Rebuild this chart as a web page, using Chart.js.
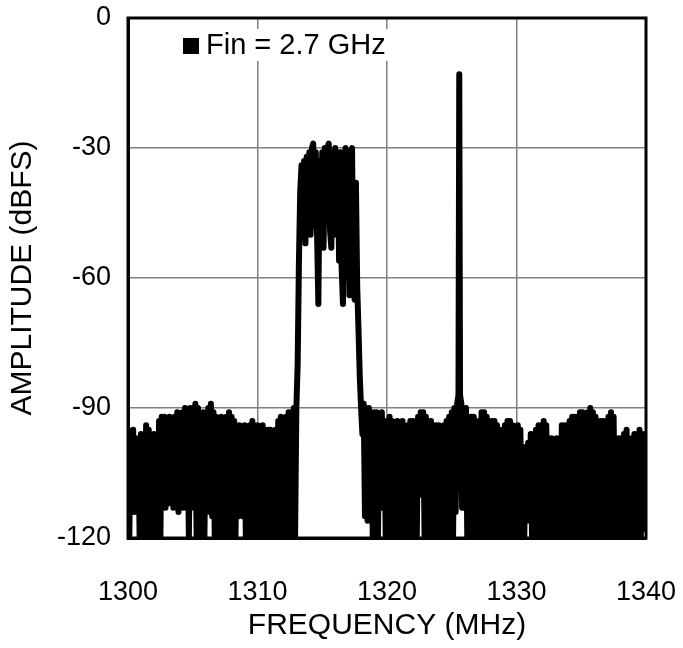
<!DOCTYPE html>
<html>
<head>
<meta charset="utf-8">
<script src="https://cdn.jsdelivr.net/npm/chart.js@4"></script>
<style>
  html, body { margin: 0; padding: 0; background: #fff; }
  #wrap { width: 683px; height: 648px; }
</style>
</head>
<body>
<div id="wrap"><canvas id="myChart" width="683" height="648"></canvas></div>
<script>
(function() {
    'use strict';

    const freqTicks = [1300, 1310, 1320, 1330, 1340];
    const ampTicks = [0, -30, -60, -90, -120];
    const seriesLabel = 'Fin = 2.7 GHz';

    // noise floor below the band, 1300.0 .. 1313.0 MHz, 0.1 MHz apart (one row per MHz)
    const noiseLowStart = 1300.0;
    const noiseLowStep = 0.1;
    const noiseLowAmp = [
      -95, -120, -96, -113, -95, -114, -97, -113, -97, -120,
      -96, -113, -98, -120, -94, -113, -95, -120, -97, -120,
      -96, -120, -97, -116, -93, -120, -92, -112, -92, -113,
      -93, -112, -92, -111, -93, -113, -92, -112, -91, -114,
      -92, -112, -91, -113, -90, -111, -91, -120, -90, -113,
      -90, -112, -89, -120, -90, -120, -92, -113, -91, -120,
      -92, -114, -90, -113, -89, -115, -91, -120, -92, -120,
      -93, -116, -92, -120, -93, -113, -92, -120, -91, -120,
      -92, -120, -93, -120, -95, -115, -94, -114, -95, -115,
      -94, -120, -95, -120, -94, -120, -93, -120, -94, -120,
      -94, -120, -95, -114, -94, -120, -95, -113, -95, -120,
      -95, -120, -96, -116, -95, -120, -93, -114, -92, -120,
      -93, -120, -92, -113, -91, -120, -91, -112, -90, -120,
      -90
    ];

    // modulated band, 1313.1 .. 1318.2 MHz, 0.1 MHz apart
    const bandStart = 1313.1;
    const bandStep = 0.1;
    const bandAmp = [
      -80, -56, -40, -34, -50, -33, -52, -32, -49,
      -31, -50, -30, -29, -48, -31, -50, -66, -33, -48,
      -31, -53, -30, -47, -30, -29, -49, -53, -31, -48,
      -30, -50, -31, -56, -31, -58, -66, -32, -30, -60,
      -32, -64, -31, -30, -60, -65, -38, -62, -72, -83,
      -90, -96, -89
    ];

    // noise between band and tone, 1318.3 .. 1325.3 MHz
    const noiseMidStart = 1318.3;
    const noiseMidStep = 0.1;
    const noiseMidAmp = [
      -115, -90, -116, -90, -114, -91, -120,
      -91, -120, -91, -120, -92, -113, -91, -113, -93, -120,
      -93, -120, -92, -116, -93, -120, -94, -120, -93, -114,
      -94, -120, -93, -120, -95, -115, -94, -120, -93, -120,
      -93, -120, -94, -120, -92, -110, -91, -109, -91, -120,
      -92, -120, -93, -114, -93, -120, -94, -120, -94, -116,
      -94, -120, -95, -120, -94, -113, -93, -120, -92, -120,
      -91, -120, -90, -114
    ];

    // the single tone
    const toneFreq = [1325.42, 1325.52, 1325.58, 1325.64, 1325.74];
    const toneAmp = [-89, -87, -13, -87, -89];

    // noise above the tone, 1325.8 .. 1340.0 MHz
    const noiseHighStart = 1325.8;
    const noiseHighStep = 0.1;
    const noiseHighAmp = [
      -113, -90,
      -113, -90, -120, -92, -120, -92, -116, -92, -120, -93,
      -120, -93, -114, -91, -120, -91, -120, -92, -115, -93,
      -120, -93, -117, -93, -120, -94, -120, -95, -120, -95,
      -117, -94, -120, -93, -116, -93, -120, -94, -120, -95,
      -120, -94, -114, -95, -120, -99, -120, -99, -115, -98,
      -116, -96, -120, -96, -115, -95, -120, -94, -120, -94,
      -120, -93, -120, -94, -116, -97, -120, -97, -115, -98,
      -120, -97, -116, -97, -120, -94, -120, -94, -114, -94,
      -120, -93, -120, -92, -117, -92, -120, -92, -120, -91,
      -116, -91, -120, -92, -114, -91, -120, -90, -120, -91,
      -120, -92, -115, -93, -120, -93, -120, -93, -117, -93,
      -120, -92, -120, -91, -116, -92, -120, -97, -120, -97,
      -118, -97, -120, -96, -120, -95, -116, -97, -120, -97,
      -120, -96, -120, -96, -115, -95, -120, -96, -118, -96,
      -97
    ];

    function stepped(start, step, amps) {
      return amps.map(function (a, i) {
        return { x: Math.round((start + i * step) * 1000) / 1000, y: a };
      });
    }

    const points = []
      .concat(stepped(noiseLowStart, noiseLowStep, noiseLowAmp))
      .concat(stepped(bandStart, bandStep, bandAmp))
      .concat(stepped(noiseMidStart, noiseMidStep, noiseMidAmp))
      .concat(toneFreq.map(function (f, i) { return { x: f, y: toneAmp[i] }; }))
      .concat(stepped(noiseHighStart, noiseHighStep, noiseHighAmp));

    const FONT = 'Liberation Sans, Arial, Helvetica, sans-serif';

    // frame on top/right plus the boxed legend inside the plot
    const framePlugin = {
      id: 'frame',
      afterDatasetsDraw: function (chart) {
        const ctx = chart.ctx;
        const a = chart.chartArea;
        ctx.save();
        ctx.strokeStyle = '#000';
        ctx.lineWidth = 3;
        ctx.strokeRect(a.left, a.top, a.right - a.left, a.bottom - a.top);

        ctx.fillStyle = '#fff';
        ctx.fillRect(a.left + 50, a.top + 11, 218, 32);
        ctx.fillStyle = '#000';
        ctx.fillRect(a.left + 55, a.top + 20, 16, 16);
        ctx.font = '29px ' + FONT;
        ctx.textBaseline = 'middle';
        ctx.textAlign = 'left';
        ctx.fillText(chart.data.datasets[0].label, a.left + 78, a.top + 28);
        ctx.restore();
      }
    };

    const chart = document.getElementById('myChart');

    new Chart(chart, {
      type: 'line',
      data: {
        datasets: [
          {
            label: seriesLabel,
            data: points,
            borderColor: '#000',
            borderWidth: 6,
            borderJoinStyle: 'round',
            borderCapStyle: 'round',
            pointRadius: 0,
            tension: 0,
            fill: false
          }
        ]
      },
      options: {
        responsive: false,
        animation: false,
        layout: {
          padding: { left: 0, top: 18, right: 37, bottom: 0 }
        },
        plugins: {
          legend: { display: false },
          tooltip: { enabled: false }
        },
        scales: {
          x: {
            type: 'linear',
            min: 1300,
            max: 1340,
            afterBuildTicks: function (scale) {
              scale.ticks = freqTicks.map(function (v) { return { value: v }; });
            },
            afterFit: function (scale) {
              scale.height = 110;
              scale.paddingLeft = 0;
              scale.paddingRight = 0;
            },
            grid: { color: '#808080', lineWidth: 1.5, drawTicks: false },
            border: { color: '#000', width: 3 },
            ticks: {
              color: '#000',
              padding: 38,
              maxRotation: 0,
              font: { family: FONT, size: 27 },
              callback: function (v) { return String(v); }
            },
            title: {
              display: true,
              text: 'FREQUENCY (MHz)',
              color: '#000',
              padding: { top: 0, bottom: 4 },
              font: { family: FONT, size: 30 }
            }
          },
          y: {
            min: -120,
            max: 0,
            afterBuildTicks: function (scale) {
              scale.ticks = ampTicks.map(function (v) { return { value: v }; });
            },
            afterFit: function (scale) {
              scale.width = 128;
              scale.paddingTop = 0;
              scale.paddingBottom = 0;
            },
            grid: { color: '#808080', lineWidth: 1.5, drawTicks: false },
            border: { color: '#000', width: 3 },
            ticks: {
              color: '#000',
              padding: 17,
              font: { family: FONT, size: 27 },
              callback: function (v) { return String(v); }
            },
            title: {
              display: true,
              text: 'AMPLITUDE (dBFS)',
              color: '#000',
              padding: { top: 5, bottom: 0 },
              font: { family: FONT, size: 30 }
            }
          }
        }
      },
      plugins: [framePlugin]
    });
})();
</script>
</body>
</html>
